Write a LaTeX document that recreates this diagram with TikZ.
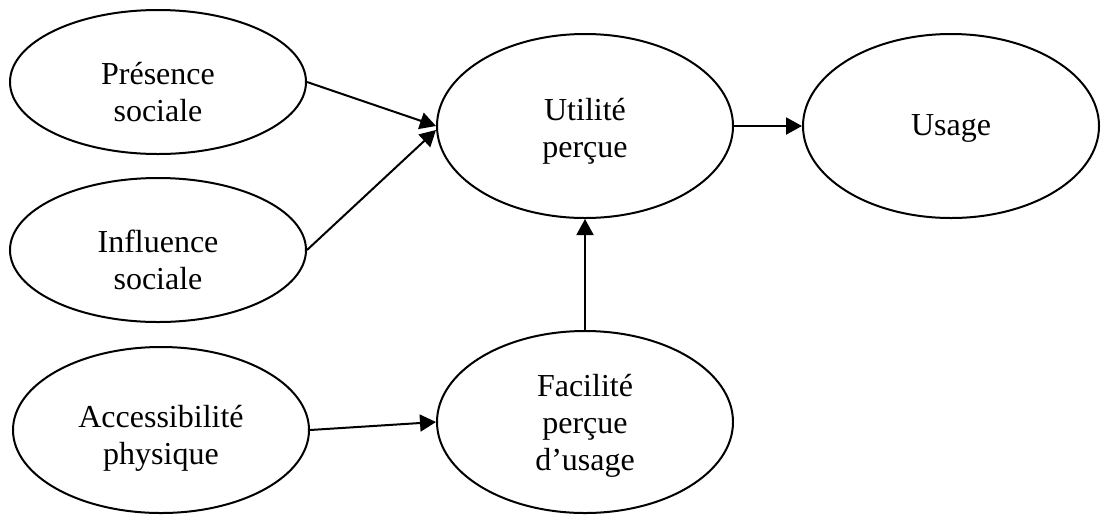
\documentclass[tikz,border=0pt]{standalone}
\usepackage{fontspec}
\setmainfont{Liberation Serif}
\usetikzlibrary{shapes.geometric,arrows.meta}

\begin{document}
\begin{tikzpicture}[x=0.5pt,y=-0.5pt,>={Triangle[length=8pt,width=8.5pt]},
		bulle/.style={ellipse,draw,line width=1pt,inner sep=0pt,minimum width=148pt},
		texte/.style={align=center,inner sep=0pt,font=\fontsize{16}{18.5}\selectfont},
		fleche/.style={->,line width=1pt}]
			\useasboundingbox (0,0) rectangle (1101,515);
			% variables
			\node[bulle,minimum height=72pt] (pres) at (158,82) {};
			\node[bulle,minimum height=72pt] (infl) at (158,250) {};
			\node[bulle,minimum height=83pt] (acces) at (161,430) {};
			\node[bulle,minimum height=92pt] (util) at (585,126) {};
			\node[bulle,minimum height=91pt] (facil) at (585,422) {};
			\node[bulle,minimum height=92pt] (usage) at (951,126) {};
			% textes
			\node[texte] (pres-t) at (158,92) {Présence\\sociale};
			\node[texte] (infl-t) at (158,260) {Influence\\sociale};
			\node[texte] (acces-t) at (161,438) {Accessibilité\\physique};
			\node[texte] (util-t) at (585,131) {Utilité\\perçue};
			\node[texte] (facil-t) at (585,426) {Facilité\\perçue\\d’usage};
			\node[texte] (usage-t) at (951,128) {Usage};
			% liens
			\draw[fleche] (pres.east) -- (util.west);
			\draw[fleche] (infl.east) -- ([yshift=-2pt]util.west);
			\draw[fleche] (acces.east) -- (facil.west);
			\draw[fleche] (facil.north) -- (util.south);
			\draw[fleche] (util.east) -- (usage.west);
\end{tikzpicture}
\end{document}
